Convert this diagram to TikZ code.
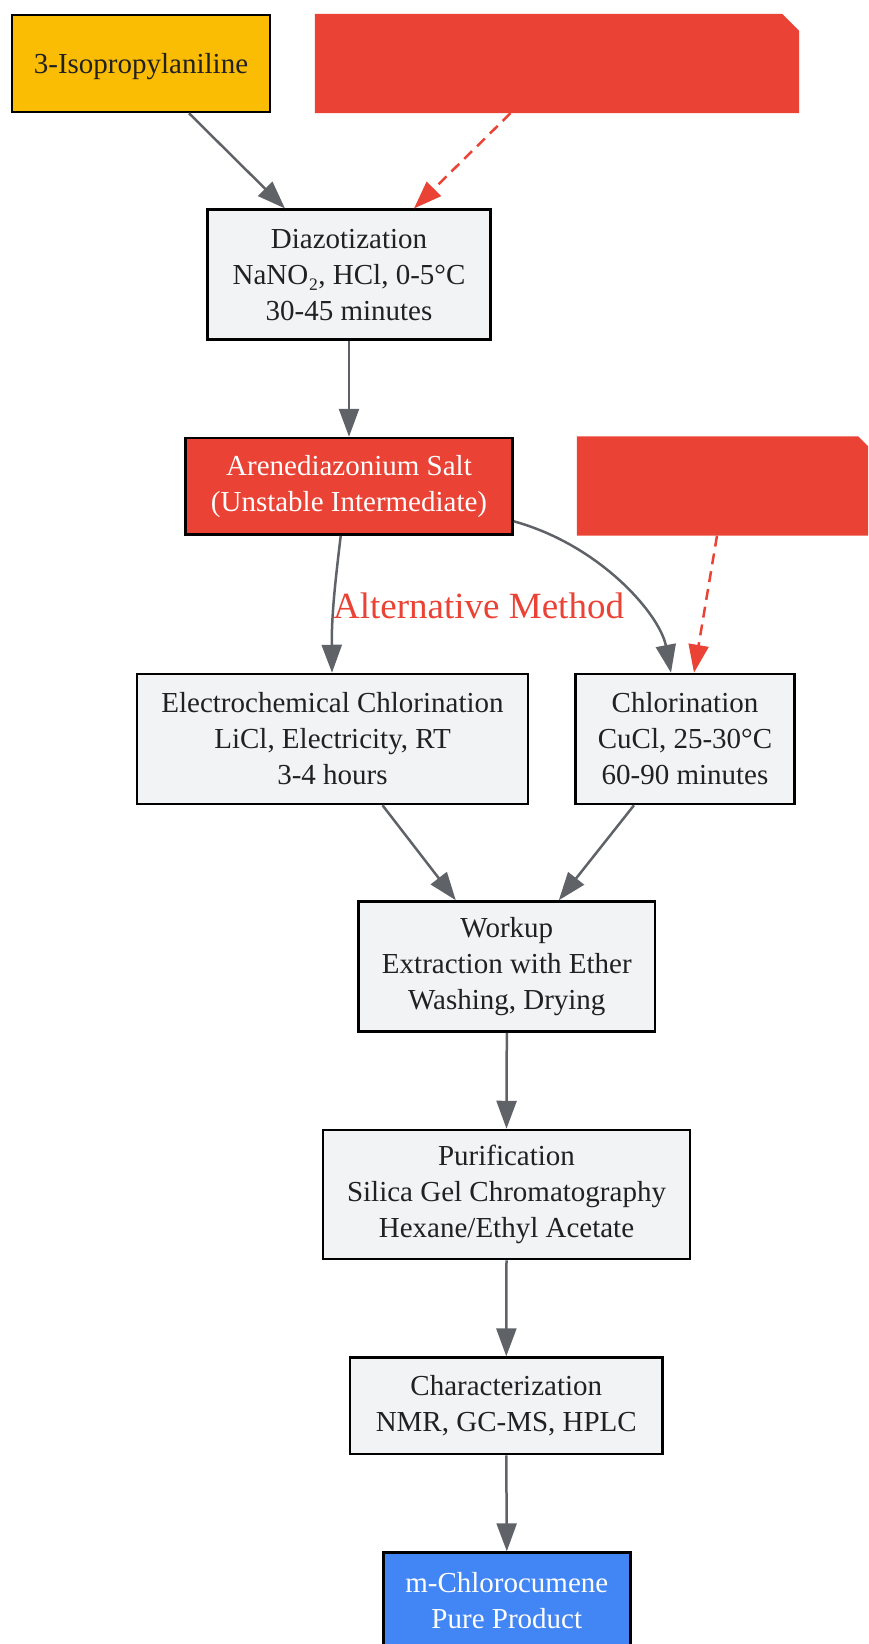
\documentclass[tikz,border=0pt]{standalone}
\usepackage{fontspec}
\setmainfont{Liberation Serif}
\usetikzlibrary{arrows.meta}
\definecolor{gyellow}{HTML}{FBBC04}
\definecolor{gred}{HTML}{EA4335}
\definecolor{gblue}{HTML}{4285F4}
\definecolor{ggrey}{HTML}{F1F3F4}
\definecolor{gtext}{HTML}{202124}
\definecolor{gedge}{HTML}{5F6368}
\tikzset{
  x=1pt, y=-1pt,
  box/.style={draw=black, line width=2.5pt, rectangle, inner sep=0pt, align=center,
    font=\fontsize{29}{36}\selectfont, text=gtext, fill=ggrey,
    execute at begin node={\rule{0pt}{26pt}}},
  notebox/.style={rectangle, draw=none, inner sep=0pt},
  edge/.style={draw=gedge, line width=2.5pt, -{Triangle[length=28pt,width=20pt]}},
  redge/.style={draw=gred, line width=2.5pt, dash pattern=on 11pt off 7pt,
    -{Triangle[length=28pt,width=20pt]}},
}
\begin{document}
\begin{tikzpicture}
\useasboundingbox (0,0) rectangle (868,1644);
\clip (0,0) rectangle (868,1644);
% nodes
\node[box, fill=gyellow, minimum width=258pt, minimum height=97pt] (iso) at (141,63.5) {3-Isopropylaniline};
\node[notebox, minimum width=484pt, minimum height=99pt] (n1) at (557,63.5) {};
\fill[gred] (n1.south west) -- (n1.north west) -- ([xshift=-17pt]n1.north east) -- ([yshift=-17pt]n1.north east) -- (n1.south east) -- cycle;
\node[box, minimum width=283pt, minimum height=130pt] (diaz) at (349,274.7) {Diazotization\\NaNO₂, HCl, 0-5°C\\30-45 minutes};
\node[box, fill=gred, text=white, minimum width=327pt, minimum height=96.6pt] (arene) at (349,486.3) {Arenediazonium Salt\\(Unstable Intermediate)};
\node[notebox, minimum width=298pt, minimum height=99pt] (n2) at (726,486) {};
\fill[gred] (n2.south west) -- (n2.north west) -- ([xshift=-17pt]n2.north east) -- ([yshift=-17pt]n2.north east) -- (n2.south east) -- cycle;
\node[box, minimum width=391pt, minimum height=130pt] (electro) at (332.5,739) {Electrochemical Chlorination\\LiCl, Electricity, RT\\3-4 hours};
\node[box, minimum width=219pt, minimum height=130pt] (chlor) at (685,739) {Chlorination\\CuCl, 25-30°C\\60-90 minutes};
\node[box, minimum width=296.5pt, minimum height=130pt] (workup) at (506.8,966.5) {Workup\\Extraction with Ether\\Washing, Drying};
\node[box, minimum width=367pt, minimum height=129pt] (purif) at (506.5,1194.5) {Purification\\Silica Gel Chromatography\\Hexane/Ethyl Acetate};
\node[box, minimum width=312.5pt, minimum height=96.5pt] (charact) at (506.3,1405.8) {Characterization\\NMR, GC-MS, HPLC};
\node[box, fill=gblue, text=white, minimum width=247pt, minimum height=96.5pt] (prod) at (506.8,1600.8) {m-Chlorocumene\\Pure Product};
% edges
\draw[edge] ([xshift=48pt]iso.south) -- ([xshift=-64pt]diaz.north);
\draw[redge] ([xshift=-46.5pt]n1.south) -- ([xshift=65pt]diaz.north);
\draw[edge] (diaz.south) -- (arene.north);
\draw[edge] ([xshift=-8.3pt]arene.south) .. controls ([xshift=-13pt,yshift=-40pt]arene.south) and ([xshift=-1pt,yshift=60pt]electro.north) .. ([xshift=-0.5pt]electro.north);
\node[text=gred, font=\fontsize{37}{40}\selectfont, anchor=west, inner sep=0pt] (alt) at (333,606) {Alternative Method};
\draw[edge] ([yshift=-35pt]arene.east) .. controls ([xshift=87pt,yshift=-59pt]arene.east) and ([xshift=-25pt,yshift=58pt]chlor.north) .. ([xshift=-14pt]chlor.north);
\draw[redge] ([xshift=-9pt]n2.south) -- ([xshift=9pt]chlor.north);
\draw[edge] ([xshift=50pt]electro.south) -- ([xshift=-51pt]workup.north);
\draw[edge] ([xshift=-51pt]chlor.south) -- ([xshift=52pt]workup.north);
\draw[edge] (workup.south) -- (purif.north);
\draw[edge] (purif.south) -- (charact.north);
\draw[edge] (charact.south) -- (prod.north);
\end{tikzpicture}
\end{document}
